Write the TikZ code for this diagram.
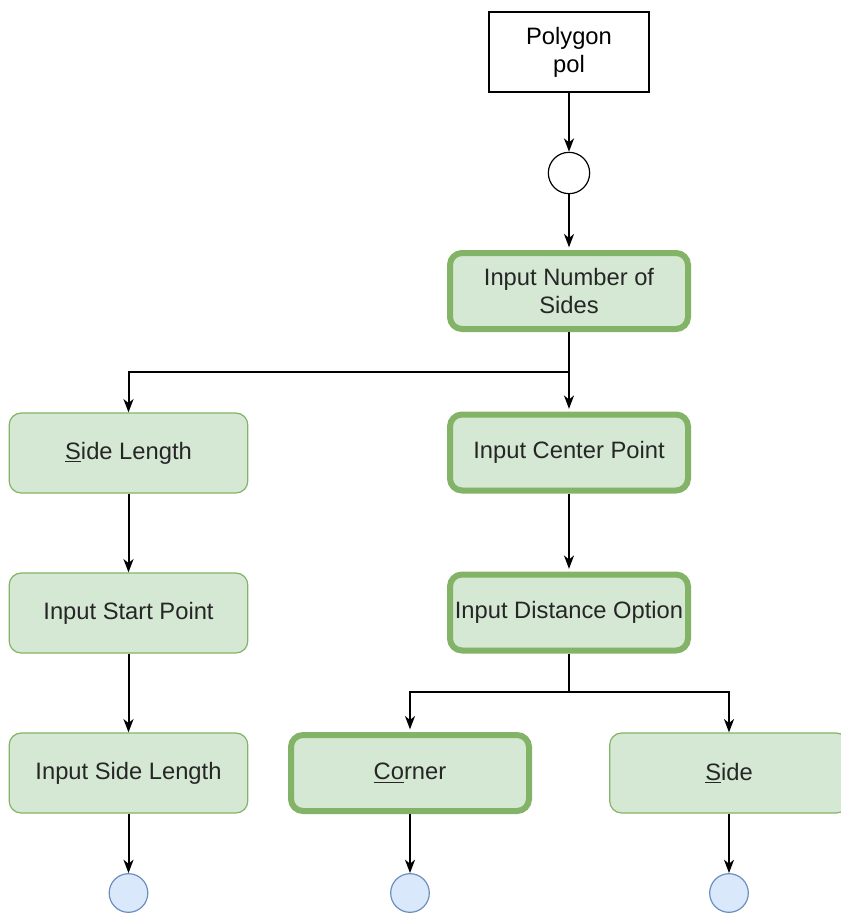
\documentclass[tikz,border=0pt]{standalone}
\usepackage{fontspec}
\setmainfont{Liberation Sans}
\usetikzlibrary{arrows.meta}

\definecolor{boxfill}{HTML}{D5E8D4}
\definecolor{boxline}{HTML}{82B366}
\definecolor{endfill}{HTML}{DAE8FC}
\definecolor{endline}{HTML}{6C8EBF}

\tikzset{
  label font/.style={font=\fontsize{17.8}{21}\selectfont},
  base/.style={rounded corners=9pt, fill=boxfill, draw=boxline, align=center,
    label font, text=black!85},
  stepbox/.style={base, line width=0.9pt, minimum width=179pt, minimum height=60pt},
  activebox/.style={base, line width=4.5pt, minimum width=178.5pt, minimum height=57pt},
  endpt/.style={circle, fill=endfill, draw=endline, line width=0.9pt,
    minimum size=29pt, inner sep=0pt},
  flow/.style={line width=1.5pt, -{Stealth[length=10pt,width=7.5pt,inset=3pt]}},
  link/.style={line width=1.5pt}
}

\begin{document}
\begin{tikzpicture}[x=0.75pt,y=-0.75pt]
   \useasboundingbox (0,0) rectangle (841,914);

   % top part
   \node[draw, line width=0.9pt, fill=white, minimum width=120pt, minimum height=60pt,
     align=center, label font] (poly) at (569,52) {Polygon\\pol};
   \node[circle, draw, line width=0.9pt, fill=white, minimum size=31pt, inner sep=0pt]
     (start) at (569,173) {};
   \node[activebox] (nsides) at (569,291) {Input Number of\\Sides};

   % left branch
   \node[stepbox] (sidelen) at (128.5,453) {\underline{S}ide Length};
   \node[stepbox] (startpt) at (128.5,613) {Input Start Point};
   \node[stepbox] (sidein) at (128.5,773) {Input Side Length};
   \node[endpt] (end1) at (128.5,893) {};

   % right branch
   \node[activebox] (center) at (569,452.5) {Input Center Point};
   \node[activebox] (dist) at (569,612.5) {Input Distance Option};
   \node[activebox] (corner) at (410,773) {\underline{Co}rner};
   \node[stepbox] (side) at (729,773) {\underline{S}ide};
   \node[endpt] (end2) at (410,893) {};
   \node[endpt] (end3) at (729,893) {};

   \coordinate (split1) at (569,372);
   \coordinate (split2) at (569,692);

   \draw[flow] (poly) -- (start);
   \draw[flow, shorten >=2pt] (start) -- (nsides);
   \draw[link] (nsides) -- (split1);
   \draw[flow] (split1) -| (sidelen);
   \draw[flow, shorten >=2pt] (split1) -- (center);
   \draw[flow] (sidelen) -- (startpt);
   \draw[flow] (startpt) -- (sidein);
   \draw[flow] (sidein) -- (end1);
   \draw[flow, shorten >=2pt] (center) -- (dist);
   \draw[link] (dist) -- (split2);
   \draw[flow, shorten >=2pt] (split2) -| (corner);
   \draw[flow] (split2) -| (side);
   \draw[flow] (corner) -- (end2);
   \draw[flow] (side) -- (end3);

\end{tikzpicture}
\end{document}
